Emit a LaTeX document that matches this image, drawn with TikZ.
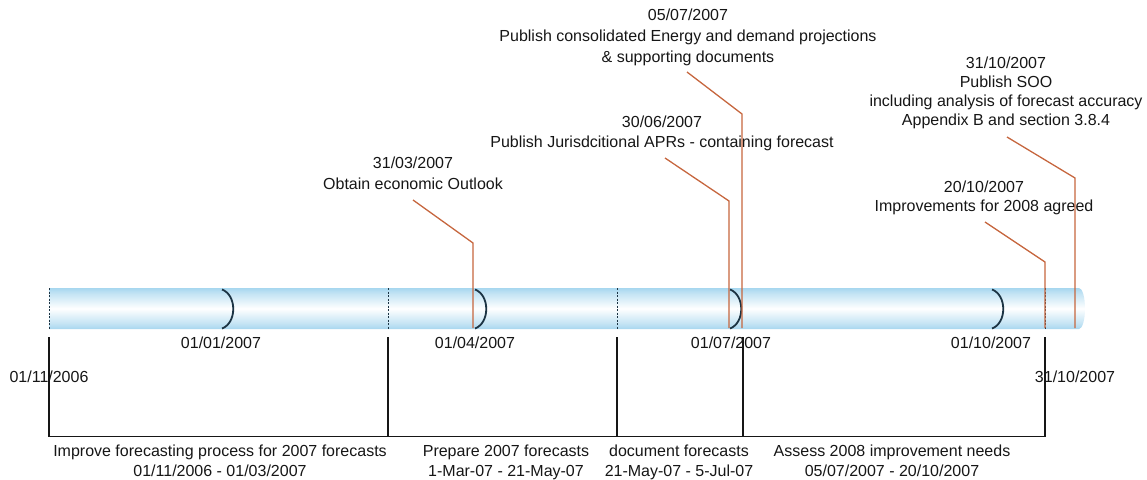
\documentclass[tikz,border=0pt]{standalone}
\usepackage{fontspec}
\setmainfont{Liberation Sans}
\definecolor{barblue}{RGB}{88,178,224}
\definecolor{callout}{RGB}{198,102,62}
\definecolor{markc}{RGB}{28,52,68}
\definecolor{ink}{RGB}{22,22,22}
\pgfdeclareverticalshading{cyl}{100bp}{color(0bp)=(barblue); color(12bp)=(barblue!85); color(32bp)=(barblue!35); color(50bp)=(white); color(68bp)=(barblue!35); color(88bp)=(barblue!85); color(100bp)=(barblue)}
\begin{document}
\begin{tikzpicture}[x=1pt,y=-1pt,
  lbl/.style={font=\fontsize{16}{20}\selectfont, text=ink, align=center, inner sep=0pt},
  callline/.style={draw=callout, line width=1.3pt},
  tickline/.style={draw=ink, line width=1.5pt},
  bracket/.style={draw=markc, line width=1.8pt},
  divider/.style={draw=markc, line width=1pt, dash pattern=on 2pt off 1.5pt}]
\useasboundingbox (0,0) rectangle (1147,479);

% timeline bar
\shade[shading=cyl] (49,288) -- (1079,288) arc[start angle=-90, end angle=90, x radius=6, y radius=20.5] -- (49,329) -- cycle;

% dividers inside bar
\foreach \x in {49,388,617,1045} \draw[divider] (\x,288) -- (\x,329);

% quarter brackets
\foreach \x in {222,475,730,992}
  \draw[bracket] (\x,289.5) .. controls ({\x+15},295) and ({\x+15},323) .. (\x,328.5);

% quarter labels
\node[lbl] (q1) at (221,343) {01/01/2007};
\node[lbl] (q2) at (475,343) {01/04/2007};
\node[lbl] (q3) at (731,343) {01/07/2007};
\node[lbl] (q4) at (991,343) {01/10/2007};
\node[lbl] (d0) at (49,377) {01/11/2006};
\node[lbl] (d4) at (1075,377) {31/10/2007};

% period ticks
\coordinate (t0a) at (49,337);  \coordinate (t0b) at (49,436.5);
\coordinate (t1a) at (388,337); \coordinate (t1b) at (388,436.5);
\coordinate (t2a) at (617,337); \coordinate (t2b) at (617,436.5);
\coordinate (t3a) at (743,337); \coordinate (t3b) at (743,436.5);
\coordinate (t4a) at (1045,337); \coordinate (t4b) at (1045,436.5);
\draw[tickline] (t0a) -- (t0b) -- (t4b) -- (t4a);
\draw[tickline] (t1a) -- (t1b);
\draw[tickline] (t2a) -- (t2b);
\draw[tickline] (t3a) -- (t3b);

% period labels
\node[lbl, anchor=north, font=\fontsize{16}{19.5}\selectfont] (p1) at (220,444.8) {Improve forecasting process for 2007 forecasts\\01/11/2006 - 01/03/2007};
\node[lbl, anchor=north, font=\fontsize{16}{19.5}\selectfont] (p2) at (506,444.8) {Prepare 2007 forecasts\\1-Mar-07 - 21-May-07};
\node[lbl, anchor=north, font=\fontsize{16}{19.5}\selectfont] (p3) at (679,444.8) {document forecasts\\21-May-07 - 5-Jul-07};
\node[lbl, anchor=north, font=\fontsize{16}{19.5}\selectfont] (p4) at (892,444.8) {Assess 2008 improvement needs\\05/07/2007 - 20/10/2007};

% event labels
\node[lbl, anchor=north, font=\fontsize{16}{20.8}\selectfont] (e1) at (688,9.2) {05/07/2007\\Publish consolidated Energy and demand projections\\\& supporting documents};
\node[lbl, anchor=north] (e2) at (662,116.2) {30/06/2007\\Publish Jurisdcitional APRs - containing forecast};
\node[lbl, anchor=north, font=\fontsize{16}{20.8}\selectfont] (e3) at (413,157.2) {31/03/2007\\Obtain economic Outlook};
\node[lbl, anchor=north, font=\fontsize{16}{18.7}\selectfont] (e4) at (1006,57.2) {31/10/2007\\Publish SOO\\including analysis of forecast accuracy\\Appendix B and section 3.8.4};
\node[lbl, anchor=north, font=\fontsize{16}{19}\selectfont] (e5) at (984,180.5) {20/10/2007\\Improvements for 2008 agreed};

% callout lines
\coordinate (c1a) at (687,72);   \coordinate (c1b) at (742,114); \coordinate (c1c) at (742,328);
\coordinate (c2a) at (665,158);  \coordinate (c2b) at (729,201); \coordinate (c2c) at (729,328);
\coordinate (c3a) at (413,200);  \coordinate (c3b) at (473,243); \coordinate (c3c) at (473,328);
\coordinate (c4a) at (1007,137); \coordinate (c4b) at (1075,178); \coordinate (c4c) at (1075,328);
\coordinate (c5a) at (985,222);  \coordinate (c5b) at (1045,262); \coordinate (c5c) at (1045,328);
\draw[callline] (c1a) -- (c1b) -- (c1c);
\draw[callline] (c2a) -- (c2b) -- (c2c);
\draw[callline] (c3a) -- (c3b) -- (c3c);
\draw[callline] (c4a) -- (c4b) -- (c4c);
\draw[callline] (c5a) -- (c5b) -- (c5c);
\end{tikzpicture}
\end{document}
